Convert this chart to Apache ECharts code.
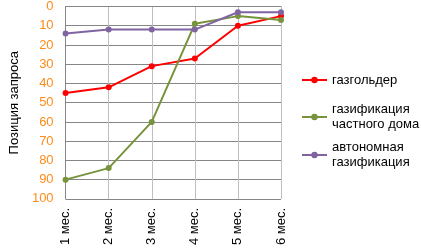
<!DOCTYPE html>
<html><head><meta charset="utf-8">
<script src="https://cdn.jsdelivr.net/npm/echarts@6/dist/echarts.min.js"></script>
<style>html,body{margin:0;padding:0;background:#fff}#c{width:421px;height:248px}</style>
</head><body><div id="c"></div>
<script>
var categories = ['1 мес.', '2 мес.', '3 мес.', '4 мес.', '5 мес.', '6 мес.'];
var seriesNames = ['газгольдер', 'газификация\nчастного дома', 'автономная\nгазификация'];
var gasholder = [45, 42, 31, 27, 10, 5];
var privateHouse = [90, 84, 60, 9, 5, 7];
var autonomous = [14, 12, 12, 12, 3, 3];
var yTicks = [0, 100, 10];

var colors = ['#ff0000', '#77933c', '#8064a2'];
var font = 'Liberation Sans, Arial, sans-serif';
function mkSeries(name, data, color) {
  return {
    name: name, type: 'line', data: data,
    symbol: 'circle', symbolSize: 6,
    lineStyle: { color: color, width: 2 },
    itemStyle: { color: color },
    emphasis: { disabled: true }
  };
}
function mkLegend(name, top, pad) {
  return {
    left: 301, top: top, orient: 'vertical', padding: 0,
    itemWidth: 25, itemHeight: 8, itemGap: 0,
    textStyle: { fontFamily: font, fontSize: 13, color: '#000', lineHeight: 15, padding: [pad, 0, 0, 0] },
    data: [name], selectedMode: false
  };
}
var chart = echarts.init(document.getElementById('c'), null, { renderer: 'canvas' });
chart.setOption({
  animation: false,
  grid: { left: 49, right: 140, top: 5, bottom: 48 },
  legend: [
    mkLegend(seriesNames[0], 72.5, 0),
    mkLegend(seriesNames[1], 94.5, 15),
    mkLegend(seriesNames[2], 132.5, 15)
  ],
  xAxis: {
    type: 'category', data: categories, boundaryGap: false,
    axisLine: { lineStyle: { color: '#868686' } },
    axisTick: { show: false },
    axisLabel: { rotate: 90, margin: 9, color: '#000', fontFamily: font, fontSize: 13, interval: 0 },
    splitLine: { show: true, lineStyle: { color: '#bfbfbf', width: 1 } }
  },
  yAxis: {
    type: 'value', inverse: true, min: yTicks[0], max: yTicks[1], interval: yTicks[2],
    name: 'Позиция запроса', nameLocation: 'middle', nameGap: 37,
    nameTextStyle: { color: '#000', fontFamily: font, fontSize: 13 },
    axisLine: { show: true, lineStyle: { color: '#868686' } },
    axisTick: { show: false },
    axisLabel: { color: '#ff8c1a', fontFamily: font, fontSize: 13, margin: 12 },
    splitLine: { show: true, lineStyle: { color: '#868686', width: 1 } }
  },
  series: [
    mkSeries(seriesNames[0], gasholder, colors[0]),
    mkSeries(seriesNames[1], privateHouse, colors[1]),
    mkSeries(seriesNames[2], autonomous, colors[2])
  ]
});
</script></body></html>
